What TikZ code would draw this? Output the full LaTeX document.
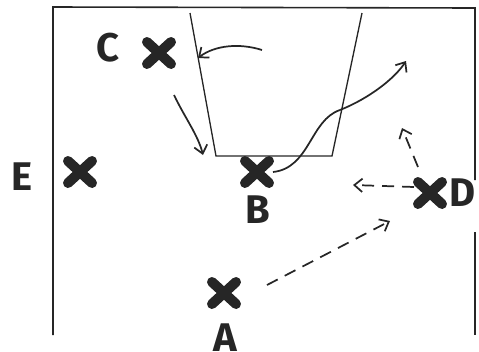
\documentclass[tikz,border=0pt]{standalone}
\usepackage{fontspec}
\setmainfont{Fira Sans}
\usetikzlibrary{arrows.meta}
\begin{document}
\begin{tikzpicture}[x=0.75pt,y=-0.75pt,
  court/.style={line width=1.2pt,black!85},
  xm/.style={line width=7.5pt,line cap=round,black!85},
  lbl/.style={font=\fontsize{30}{30}\selectfont\bfseries,text=black!85,inner sep=0pt},
  mv/.style={line width=1.3pt,black!85,-{Straight Barb[length=6pt,width=10pt]}},
  pass/.style={mv,dash pattern=on 9pt off 6pt}]
\useasboundingbox (0,0) rectangle (479,351);
% court
\draw[court] (53,335) -- (53,7) -- (475,8) -- (475,180);
\draw[court,line width=0.9pt] (475,232) -- (475,335);
\coordinate (kl1) at (190,13); \coordinate (kl2) at (216,156);
\coordinate (kr1) at (362,13); \coordinate (kr2) at (332,156);
\draw[court,line width=1pt] (kl1) -- (kl2) -- (kr2) -- (kr1);
% players
\coordinate (C) at (159,53);
\coordinate (E) at (80,172);
\coordinate (B) at (257,172);
\coordinate (D) at (430,193);
\coordinate (A) at (224,293);
\foreach \p in {C,E,B,D,A}{
  \draw[xm] ([shift={(-12,-11)}]\p) -- ([shift={(12,11)}]\p);
  \draw[xm] ([shift={(-12,11)}]\p) -- ([shift={(12,-11)}]\p);
}
\node[lbl] (lC) at (108,48) {C};
\node[lbl] (lE) at (22,177) {E};
\node[lbl] (lB) at (258,210) {B};
\node[lbl] (lD) at (463,193) {D};
\node[lbl] (lA) at (225,338) {A};
% movements
\coordinate (a1s) at (262,50); \coordinate (a1e) at (198,58);
\draw[mv] (a1s) .. controls (240,43) and (215,45) .. (a1e);
\coordinate (a2s) at (174,95); \coordinate (a2e) at (203,155);
\draw[mv] (a2s) .. controls (185,118) and (198,135) .. (a2e);
\coordinate (a3s) at (273,172); \coordinate (a3e) at (406,61);
\draw[mv] (a3s) .. controls (310,168) and (310,120) .. (340,110) .. controls (370,98) and (395,78) .. (a3e);
% passes
\coordinate (p1s) at (418,167); \coordinate (p1e) at (402,128);
\draw[pass] (p1s) -- (p1e);
\coordinate (p2s) at (414,187); \coordinate (p2e) at (353,185);
\draw[pass] (p2s) -- (p2e);
\coordinate (p3s) at (267,285); \coordinate (p3e) at (390,221);
\draw[pass] (p3s) -- (p3e);
\end{tikzpicture}
\end{document}
